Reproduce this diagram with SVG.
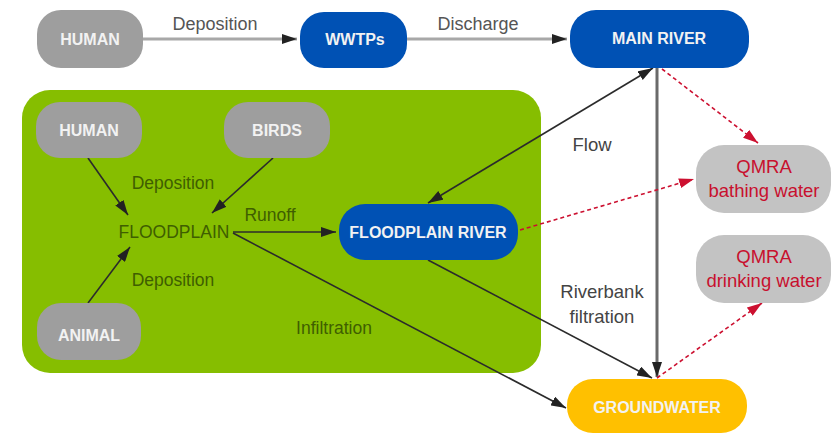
<svg xmlns="http://www.w3.org/2000/svg" width="833" height="434" viewBox="0 0 833 434">
<defs>
<style>
.nt{font-family:"Liberation Sans",Arial,sans-serif;font-weight:bold;font-size:16px;fill:#f2f2f2;text-anchor:middle}
.lb{font-family:"Liberation Sans",Arial,sans-serif;font-size:17.5px;text-anchor:middle}
.top{fill:#555;font-size:18px}
.grn{fill:#3f5e00}
.rt{fill:#444;font-size:18.5px}
.qt{font-family:"Liberation Sans",Arial,sans-serif;font-size:18.5px;fill:#c8102e;text-anchor:middle}
.gray{fill:#9e9e9e}
.qm{fill:#c3c3c3}
.blue{fill:#0051b4}
.yel{fill:#ffc000}
.c-top{stroke:#a8a8a8;stroke-width:3;fill:none}
.c-dk{stroke:#2b2b2b;stroke-width:1.6;fill:none}
.c-v{stroke:#6a6a6a;stroke-width:3;fill:none}
.c-red{stroke:#cc1030;stroke-width:1.6;stroke-dasharray:4 3;fill:none}
</style>
<marker id="ab" markerWidth="16" markerHeight="10" refX="15" refY="5" orient="auto" markerUnits="userSpaceOnUse">
<path d="M0,0 L15,5 L0,10 z" fill="#222"/>
</marker>
<marker id="abs" markerWidth="16" markerHeight="10" refX="15" refY="5" orient="auto-start-reverse" markerUnits="userSpaceOnUse">
<path d="M0,0 L15,5 L0,10 z" fill="#222"/>
</marker>
<marker id="ar" markerWidth="16" markerHeight="10" refX="15" refY="5" orient="auto" markerUnits="userSpaceOnUse">
<path d="M0,0 L15,5 L0,10 z" fill="#cc1030"/>
</marker>
</defs>
<rect width="833" height="434" fill="#ffffff"/>
<g id="floodplain-area">
<rect x="22" y="90" width="519" height="283" rx="28" fill="#86be00"/>
</g>
<g id="connectors">
<line class="c-top" x1="143" y1="39" x2="297" y2="39" marker-end="url(#ab)"/>
<line class="c-top" x1="407" y1="39" x2="567" y2="39" marker-end="url(#ab)"/>
<line class="c-dk" x1="88" y1="158" x2="128" y2="215" marker-end="url(#ab)"/>
<line class="c-dk" x1="273" y1="158" x2="212" y2="213" marker-end="url(#ab)"/>
<line class="c-dk" x1="88" y1="303" x2="130" y2="247" marker-end="url(#ab)"/>
<line class="c-dk" x1="233" y1="232" x2="336" y2="232" stroke-width="2.5" marker-end="url(#ab)"/>
<line class="c-dk" x1="233" y1="233" x2="566" y2="408" marker-end="url(#ab)"/>
<line class="c-dk" x1="653" y1="68" x2="428" y2="203" marker-start="url(#abs)" marker-end="url(#ab)"/>
<line class="c-v" x1="657" y1="68" x2="657" y2="377" marker-end="url(#ab)"/>
<line class="c-dk" x1="428" y1="260" x2="652" y2="378" marker-end="url(#ab)"/>
<line class="c-red" x1="662" y1="69" x2="758" y2="143" marker-end="url(#ar)"/>
<line class="c-red" x1="520" y1="230" x2="694" y2="179" marker-end="url(#ar)"/>
<line class="c-red" x1="657" y1="378" x2="762" y2="303" marker-end="url(#ar)"/>
</g>
<g id="labels">
<text class="lb top" x="215" y="30">Deposition</text>
<text class="lb top" x="478" y="30">Discharge</text>
<text class="lb grn" x="173" y="189">Deposition</text>
<text class="lb grn" x="174" y="238">FLOODPLAIN</text>
<text class="lb grn" x="270" y="221">Runoff</text>
<text class="lb grn" x="173" y="286">Deposition</text>
<text class="lb grn" x="334" y="334">Infiltration</text>
<text class="lb rt" x="592" y="151">Flow</text>
<text class="lb rt" x="602" y="298">Riverbank</text>
<text class="lb rt" x="602" y="323">filtration</text>
</g>
<g id="human-top">
<rect class="gray" x="37" y="10" width="106" height="58" rx="24"/>
<text class="nt" x="90" y="45">HUMAN</text>
</g>
<g id="wwtps">
<rect class="blue" x="300" y="12" width="107" height="56" rx="24"/>
<text class="nt" x="355" y="45">WWTPs</text>
</g>
<g id="main-river">
<rect class="blue" x="570" y="10" width="179" height="58" rx="26"/>
<text class="nt" x="659" y="44">MAIN RIVER</text>
</g>
<g id="human-fp">
<rect class="gray" x="36" y="102" width="106" height="56" rx="24"/>
<text class="nt" x="89" y="136">HUMAN</text>
</g>
<g id="birds">
<rect class="gray" x="224" y="102" width="106" height="56" rx="24"/>
<text class="nt" x="277" y="136">BIRDS</text>
</g>
<g id="animal">
<rect class="gray" x="37" y="303" width="104" height="57" rx="24"/>
<text class="nt" x="89" y="341">ANIMAL</text>
</g>
<g id="floodplain-river">
<rect class="blue" x="339" y="204" width="179" height="56" rx="26"/>
<text class="nt" x="428" y="238">FLOODPLAIN RIVER</text>
</g>
<g id="groundwater">
<rect class="yel" x="567" y="379" width="180" height="54" rx="26"/>
<text class="nt" x="657" y="413">GROUNDWATER</text>
</g>
<g id="qmra-bathing">
<rect class="qm" x="696" y="145" width="135" height="68" rx="28"/>
<text class="qt" x="764" y="173">QMRA</text>
<text class="qt" x="764" y="197">bathing water</text>
</g>
<g id="qmra-drinking">
<rect class="qm" x="696" y="235" width="135" height="68" rx="28"/>
<text class="qt" x="764" y="263">QMRA</text>
<text class="qt" x="764" y="287">drinking water</text>
</g>
</svg>
